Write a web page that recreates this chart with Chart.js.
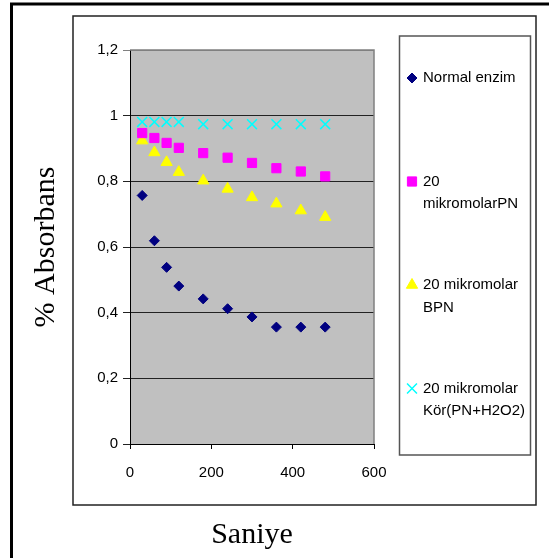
<!DOCTYPE html>
<html>
<head>
<meta charset="utf-8">
<script src="https://cdn.jsdelivr.net/npm/chart.js@4"></script>
<style>
    body { margin: 0; background: #fff; }
    canvas { display: block; }
</style>
</head>
<body>
<canvas id="absChart" width="549" height="558"></canvas>
<script>
// Data
const seconds = [30, 60, 90, 120, 180, 240, 300, 360, 420, 480];
const normalEnzim = [0.757, 0.619, 0.538, 0.481, 0.442, 0.412, 0.387, 0.356, 0.356, 0.356];
const mikromolarPN = [0.947, 0.932, 0.917, 0.902, 0.886, 0.872, 0.856, 0.84, 0.83, 0.815];
const mikromolarBPN = [0.924, 0.888, 0.858, 0.828, 0.802, 0.777, 0.751, 0.732, 0.711, 0.691];
const korPN = [0.981, 0.981, 0.981, 0.981, 0.974, 0.974, 0.974, 0.974, 0.974, 0.974];

const seriesLabels = [
    "Normal enzim",
    "20\nmikromolarPN",
    "20 mikromolar\nBPN",
    "20 mikromolar\nKör(PN+H2O2)",
];
const seriesColors = ["#000080", "#ff00ff", "#ffff00", "#00ffff"];
const xTitle = "Saniye";
const yTitle = "% Absorbans";

const toPoints = (values) => values.map((v, i) => ({ x: seconds[i], y: v }));

// Frames, plot background and legend box
const framePlugin = {
    id: "frame",
    beforeDraw(chart) {
        const ctx = chart.ctx;
        const a = chart.chartArea;
        ctx.save();
        ctx.fillStyle = "#fff";
        ctx.fillRect(0, 0, chart.width, chart.height);

        ctx.strokeStyle = "#000";
        ctx.lineWidth = 3;
        ctx.beginPath();
        ctx.moveTo(11.5, chart.height);
        ctx.lineTo(11.5, 4);
        ctx.lineTo(chart.width, 4);
        ctx.stroke();

        ctx.strokeStyle = "#222";
        ctx.lineWidth = 1.5;
        ctx.strokeRect(73, 16, 463, 489);

        ctx.fillStyle = "#c0c0c0";
        ctx.fillRect(a.left, a.top, a.right - a.left, a.bottom - a.top);
        ctx.restore();
    },
    afterDraw(chart) {
        const ctx = chart.ctx;
        const a = chart.chartArea;
        ctx.save();
        // top and right edge of plot area
        ctx.strokeStyle = "#808080";
        ctx.lineWidth = 1.5;
        ctx.beginPath();
        ctx.moveTo(a.left, a.top);
        ctx.lineTo(a.right, a.top);
        ctx.lineTo(a.right, a.bottom);
        ctx.stroke();

        // legend
        ctx.strokeStyle = "#555";
        ctx.lineWidth = 1.5;
        ctx.strokeRect(399.5, 36, 131, 419);
        ctx.font = "15px 'Liberation Sans', Arial, sans-serif";
        ctx.textBaseline = "middle";
        ctx.textAlign = "left";
        chart.data.datasets.forEach((ds, i) => {
            const y = 78 + i * 103.5;
            ctx.fillStyle = ds.backgroundColor;
            ctx.strokeStyle = ds.borderColor;
            ctx.lineWidth = ds.borderWidth;
            Chart.helpers.drawPoint(ctx, {
                pointStyle: ds.pointStyle,
                radius: ds.pointRadius,
                borderWidth: ds.borderWidth,
                rotation: 0,
            }, 412, y);
            ctx.fillStyle = "#000";
            ds.label.split("\n").forEach((line, j) => {
                ctx.fillText(line, 423, y + j * 22.5);
            });
        });
        ctx.restore();
    },
};

const tickFont = { family: "'Liberation Sans', Arial, sans-serif", size: 15 };
const titleFont = { family: "'Liberation Serif', 'Times New Roman', serif", size: 30 };

new Chart(document.getElementById("absChart"), {
    type: "scatter",
    data: {
        datasets: [
            {
                label: seriesLabels[0],
                data: toPoints(normalEnzim),
                pointStyle: "rectRot",
                pointRadius: 5,
                backgroundColor: seriesColors[0],
                borderColor: seriesColors[0],
                borderWidth: 1,
            },
            {
                label: seriesLabels[1],
                data: toPoints(mikromolarPN),
                pointStyle: "rect",
                pointRadius: 6.5,
                backgroundColor: seriesColors[1],
                borderColor: seriesColors[1],
                borderWidth: 1,
            },
            {
                label: seriesLabels[2],
                data: toPoints(mikromolarBPN),
                pointStyle: "triangle",
                pointRadius: 6.5,
                backgroundColor: seriesColors[2],
                borderColor: seriesColors[2],
                borderWidth: 1,
            },
            {
                label: seriesLabels[3],
                data: toPoints(korPN),
                pointStyle: "crossRot",
                pointRadius: 7,
                backgroundColor: seriesColors[3],
                borderColor: seriesColors[3],
                borderWidth: 1.5,
            },
        ],
    },
    options: {
        responsive: false,
        animation: false,
        layout: {
            padding: { top: 50, right: 175, left: 0, bottom: 0 },
        },
        plugins: {
            legend: { display: false },
            tooltip: { enabled: false },
        },
        scales: {
            x: {
                type: "linear",
                min: 0,
                max: 600,
                afterFit: (scale) => { scale.height = 114; },
                ticks: {
                    stepSize: 200,
                    color: "#000",
                    font: tickFont,
                    padding: 15,
                    maxRotation: 0,
                },
                grid: {
                    drawOnChartArea: false,
                    tickLength: 5,
                    color: "#000",
                },
                border: { color: "#000", width: 1 },
                title: {
                    display: true,
                    text: xTitle,
                    color: "#000",
                    font: titleFont,
                    padding: { top: 0, bottom: 5 },
                },
            },
            y: {
                min: 0,
                max: 1.2,
                afterFit: (scale) => { scale.width = 130; },
                ticks: {
                    stepSize: 0.2,
                    color: "#000",
                    font: tickFont,
                    padding: 5,
                    callback: (value) => String(Math.round(value * 10) / 10).replace(".", ","),
                },
                grid: {
                    tickLength: 7,
                    color: (c) => (c.tick && c.tick.value > 1.1 ? "#808080" : "#222"),
                    lineWidth: 1,
                },
                border: { color: "#000", width: 1 },
                title: {
                    display: true,
                    text: yTitle,
                    color: "#000",
                    font: titleFont,
                    padding: { top: 28, bottom: 0 },
                },
            },
        },
    },
    plugins: [framePlugin],
});
</script>
</body>
</html>
